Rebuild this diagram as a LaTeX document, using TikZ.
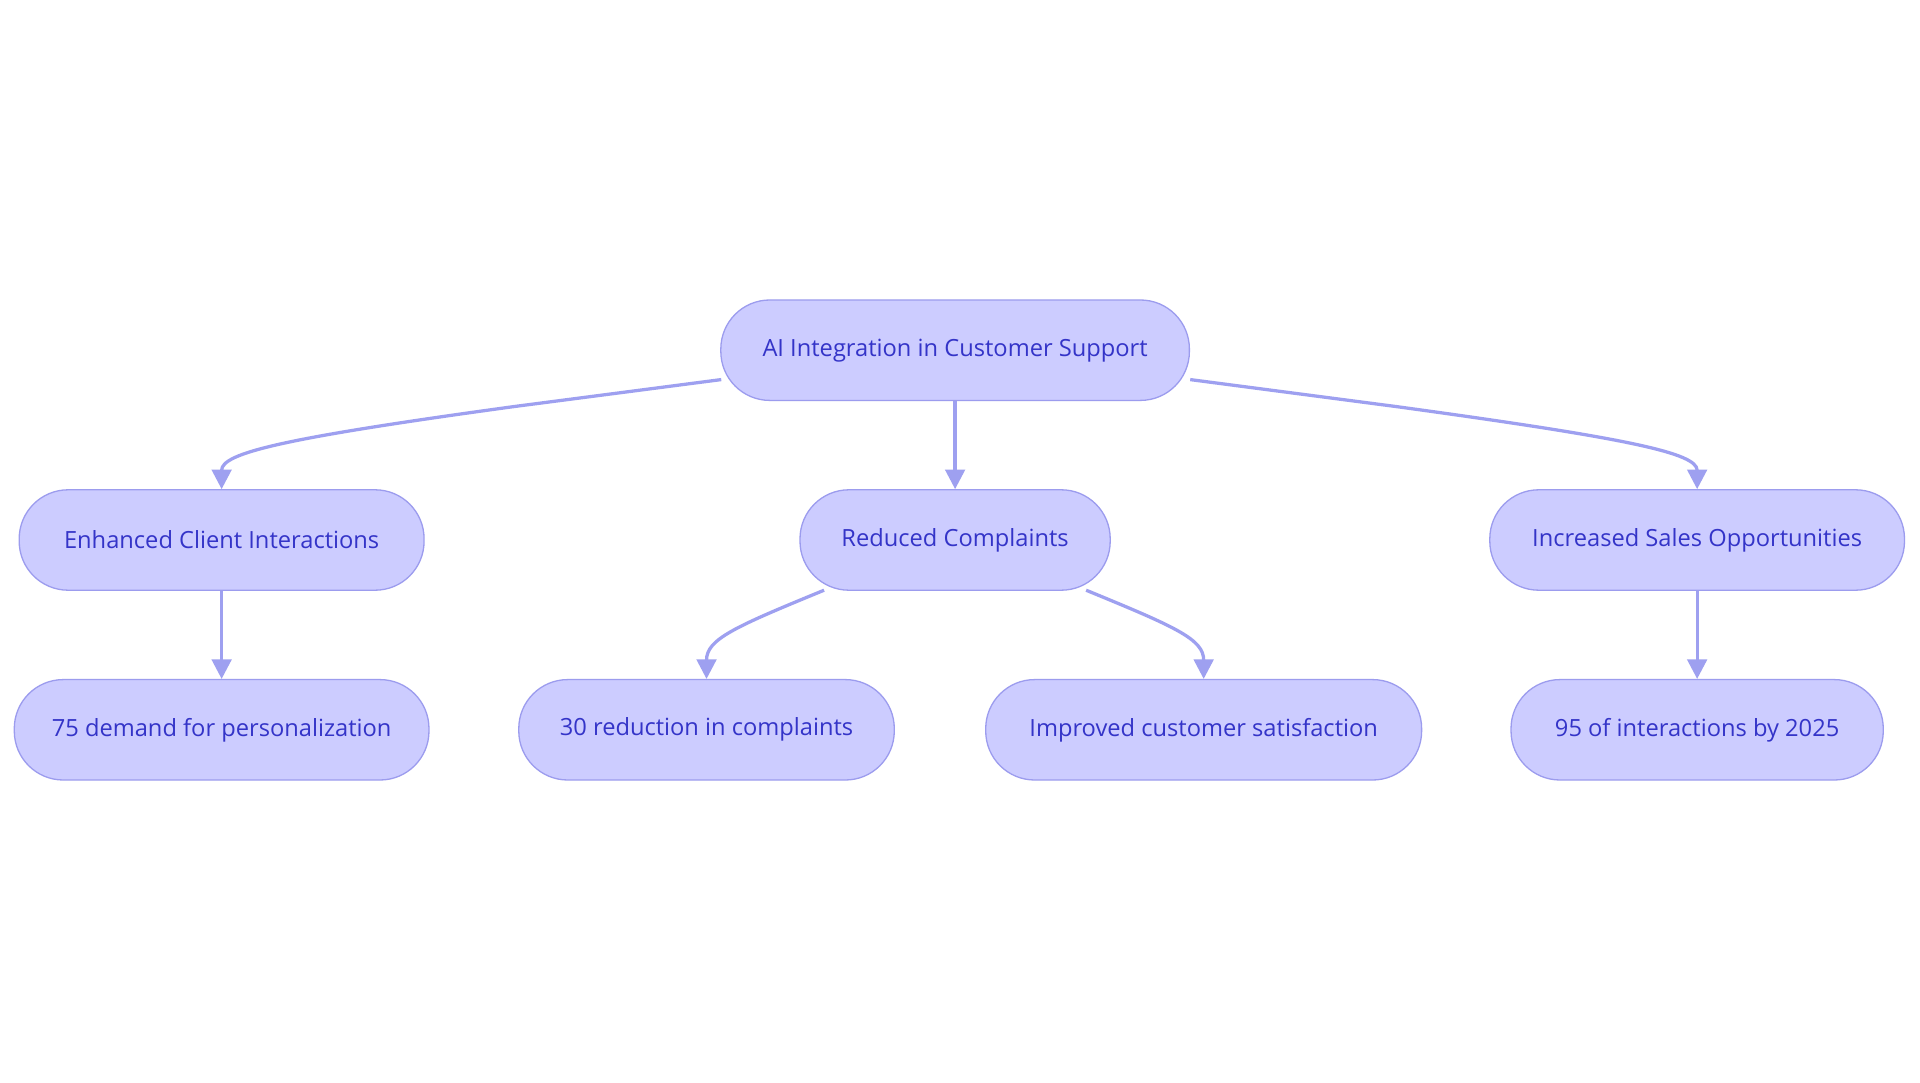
\documentclass[tikz,border=0pt]{standalone}
\usepackage{fontspec}
\setmainfont{Open Sans}
\usetikzlibrary{arrows.meta}
\definecolor{nfill}{HTML}{CCCCFF}
\definecolor{nline}{HTML}{9C9CEE}
\definecolor{ntext}{HTML}{3434C8}
\definecolor{eline}{HTML}{9EA0F0}
\begin{document}
\begin{tikzpicture}[x=0.75pt,y=-0.75pt,
  box/.style={draw=nline,fill=nfill,line width=0.8pt,rounded corners=30pt,
    minimum height=61.5pt,text=ntext,font=\fontsize{14.5}{16}\selectfont,inner sep=0pt},
  edge/.style={draw=eline,line width=2pt,-{Triangle[length=12pt,width=12pt]}}]
\useasboundingbox[fill=white] (0,0) rectangle (1568,884);
\node[box,minimum width=287pt] (ai) at (780,286) {AI Integration in Customer Support};
\node[box,minimum width=248pt] (ec) at (181,441) {Enhanced Client Interactions};
\node[box,minimum width=190pt] (rc) at (780,441) {Reduced Complaints};
\node[box,minimum width=254pt] (is) at (1386,441) {Increased Sales Opportunities};
\node[box,minimum width=254pt] (pd) at (181,596) {75 demand for personalization};
\node[box,minimum width=230pt] (rd) at (577,596) {30 reduction in complaints};
\node[box,minimum width=267pt] (cs) at (983,596) {Improved customer satisfaction};
\node[box,minimum width=228pt] (ia) at (1386,596) {95 of interactions by 2025};
\coordinate (aiL) at (589,310); \coordinate (aiR) at (972,310);
\coordinate (rcL) at (673,482); \coordinate (rcR) at (887,482);
\draw[edge] (aiL) -- (420,332) .. controls (230,358) and (181,370) .. (ec.north);
\draw[edge] (aiR) -- (1140,332) .. controls (1330,358) and (1386,370) .. (is.north);
\draw[edge] (ai) -- (rc);
\draw[edge] (ec) -- (pd);
\draw[edge] (is) -- (ia);
\draw[edge] (rcL) .. controls (600,512) and (577,522) .. (rd.north);
\draw[edge] (rcR) .. controls (960,512) and (983,522) .. (cs.north);
\end{tikzpicture}
\end{document}
